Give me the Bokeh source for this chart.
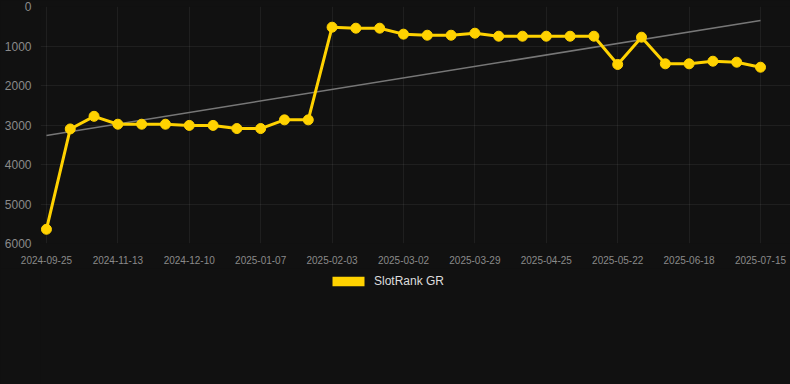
import numpy as np
from bokeh.plotting import figure
from bokeh.layouts import column
from bokeh.models import Range1d, FixedTicker, Legend, LegendItem, ColumnDataSource
from bokeh.embed import file_html
from bokeh.resources import INLINE

# ---- data ----
tick_labels = ["2024-09-25", "2024-11-13", "2024-12-10", "2025-01-07", "2025-02-03",
               "2025-03-02", "2025-03-29", "2025-04-25", "2025-05-22", "2025-06-18",
               "2025-07-15"]
rank = [5640, 3100, 2780, 2980, 2980, 2980, 3010, 3010, 3090, 3090, 2870, 2870,
        524, 549, 549, 700, 727, 727, 676, 752, 752, 752, 752, 752,
        1468, 777, 1451, 1451, 1385, 1410, 1537]
series_name = "SlotRank GR"

idx = np.arange(len(rank))
coef = np.polyfit(idx, np.array(rank, dtype=float), 1)
trend = np.polyval(coef, idx[[0, -1]])

BG = "#111111"
GOLD = "#FFD200"

# ---- main chart ----
p = figure(frame_width=750, frame_height=237, output_backend="svg", toolbar_location=None,
           x_range=Range1d(-0.25, 31.26), y_range=Range1d(6000, 0),
           min_border_left=40, min_border_right=0, min_border_top=6, min_border_bottom=25)
p.background_fill_color = BG
p.border_fill_color = BG
p.outline_line_color = None

p.line(idx[[0, -1]], trend, line_color="#777777", line_width=1.5)
src = ColumnDataSource(dict(x=idx, y=rank))
p.line("x", "y", source=src, line_color=GOLD, line_width=3)
p.scatter("x", "y", source=src, size=10, fill_color=GOLD, line_color=GOLD)

p.xaxis.ticker = FixedTicker(ticks=list(range(0, len(rank), 3)))
p.xaxis.major_label_overrides = {i * 3: lab for i, lab in enumerate(tick_labels)}
p.yaxis.ticker = FixedTicker(ticks=[0, 1000, 2000, 3000, 4000, 5000, 6000])
for ax in (p.xaxis, p.yaxis):
    ax.axis_line_color = None
    ax.major_tick_line_color = None
    ax.minor_tick_line_color = None
    ax.major_label_text_color = "#8a8a8a"
    ax.major_label_text_font = "Liberation Sans"
p.xaxis.major_label_text_font_size = "10px"
p.yaxis.major_label_text_font_size = "12px"
p.xaxis.major_label_standoff = 6
p.yaxis.major_label_standoff = 3

p.xgrid.ticker = p.xaxis.ticker
p.ygrid.ticker = p.yaxis.ticker
p.grid.grid_line_color = "#ffffff"
p.grid.grid_line_alpha = 0.06

# ---- legend strip ----
q = figure(width=790, height=116, output_backend="svg", toolbar_location=None,
           x_axis_type=None, y_axis_type=None,
           x_range=Range1d(0, 1), y_range=Range1d(0, 1),
           min_border_left=0, min_border_right=0, min_border_top=0, min_border_bottom=0)
q.background_fill_color = BG
q.border_fill_color = BG
q.outline_line_color = None
q.grid.visible = False

nan = [np.nan]
blk = q.quad(left=nan, right=nan, top=nan, bottom=nan, fill_color=GOLD, line_color=None)

legend = Legend(items=[LegendItem(label=series_name, renderers=[blk])],
                location=(288, 96), orientation="horizontal",
                glyph_width=40, glyph_height=12, label_standoff=6, padding=0,
                border_line_color=None, background_fill_alpha=0,
                label_text_color="#dddddd", label_text_font_size="12px",
                label_text_font="Liberation Sans")
q.add_layout(legend, "center")

page = column(p, q, spacing=0, styles={"background-color": BG})

open("out.html", "w").write(file_html(page, INLINE))
